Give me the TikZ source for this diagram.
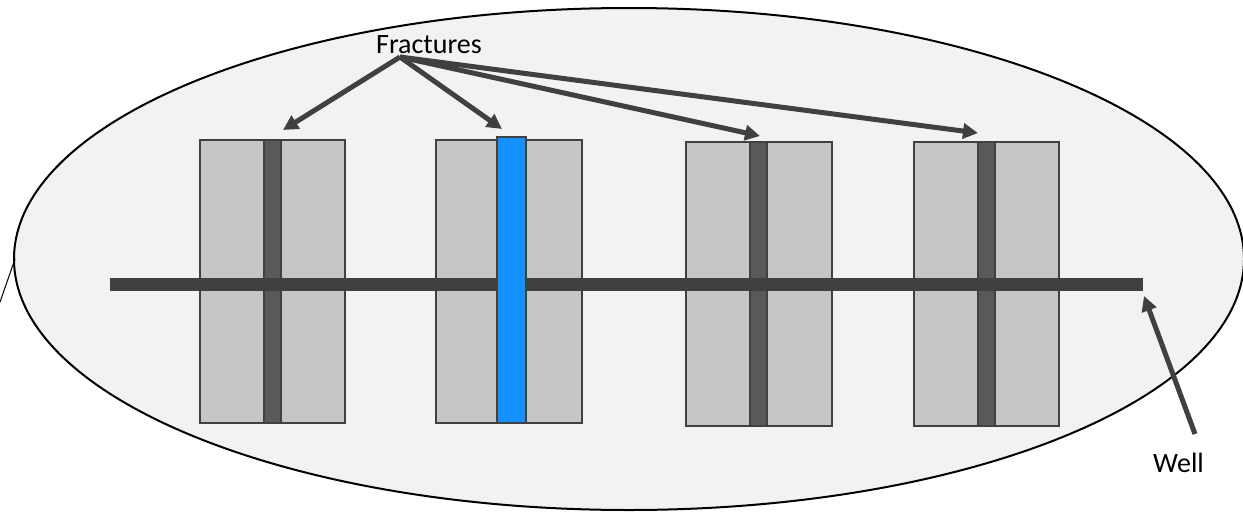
\documentclass[tikz,border=0pt]{standalone}
\usepackage{fontspec}
\setmainfont{Carlito}
\usetikzlibrary{arrows.meta}
\definecolor{ink}{HTML}{404040}
\definecolor{field}{HTML}{F2F2F2}
\definecolor{rock}{HTML}{C6C6C6}
\definecolor{frac}{HTML}{595959}
\definecolor{active}{HTML}{1591FF}
\tikzset{
  zone/.style={draw=ink, line width=2pt, fill=rock, inner sep=0pt, minimum height=283pt},
  crack/.style={draw=ink, line width=2pt, fill=frac, inner sep=0pt, minimum width=17pt},
  hotcrack/.style={draw=ink, line width=2pt, fill=active, inner sep=0pt, minimum width=29pt},
  pointer/.style={draw=ink, line width=5pt, -{Triangle[length=15pt,width=15pt]}},
  caption/.style={font=\fontsize{28}{30}\selectfont, inner sep=0pt, anchor=base}
}
\begin{document}
\begin{tikzpicture}[x=1pt,y=-1pt]
\useasboundingbox (0,0) rectangle (1243,512);
\fill[white] (0,0) rectangle (1243,512);

% reservoir
\draw[black, line width=2pt, fill=field] (629,259) ellipse [x radius=615, y radius=251];
\coordinate (resleft) at (15,259);
\coordinate (offpage) at (0,302);
\draw[black, line width=1pt] (resleft) -- (offpage);

% stimulated zones
\node[zone, minimum width=145pt] (z1) at (272.5,281.5) {};
\node[zone, minimum width=146pt] (z2) at (509,281.5) {};
\node[zone, minimum width=146pt, minimum height=284pt] (z3) at (759,284) {};
\node[zone, minimum width=145pt, minimum height=284pt] (z4) at (986.5,284) {};

% fractures
\node[crack, minimum height=283pt] (f1) at (272.5,281.5) {};
\node[crack, minimum height=284pt] (f3) at (758.5,284) {};
\node[crack, minimum height=284pt] (f4) at (986.5,284) {};

% well
\node[fill=ink, inner sep=0pt, minimum width=1033pt, minimum height=13pt] (well) at (626.5,284.5) {};

% active fracture
\node[hotcrack, minimum height=286pt] (f2) at (511.5,280) {};

% labels and pointers
\node[caption] (fraclabel) at (429,53) {Fractures};
\coordinate (fo) at (400,57);
\coordinate (t1) at (283,130);
\coordinate (t2) at (502,129);
\coordinate (t3) at (760,136);
\coordinate (t4) at (978,133);
\draw[pointer] (fo) -- (t1);
\draw[pointer] (fo) -- (t2);
\draw[pointer] (fo) -- (t3);
\draw[pointer] (fo) -- (t4);

\node[caption] (welllabel) at (1178.5,472) {Well};
\coordinate (wo) at (1195,434);
\coordinate (wt) at (1144,296);
\draw[pointer] (wo) -- (wt);
\end{tikzpicture}
\end{document}
